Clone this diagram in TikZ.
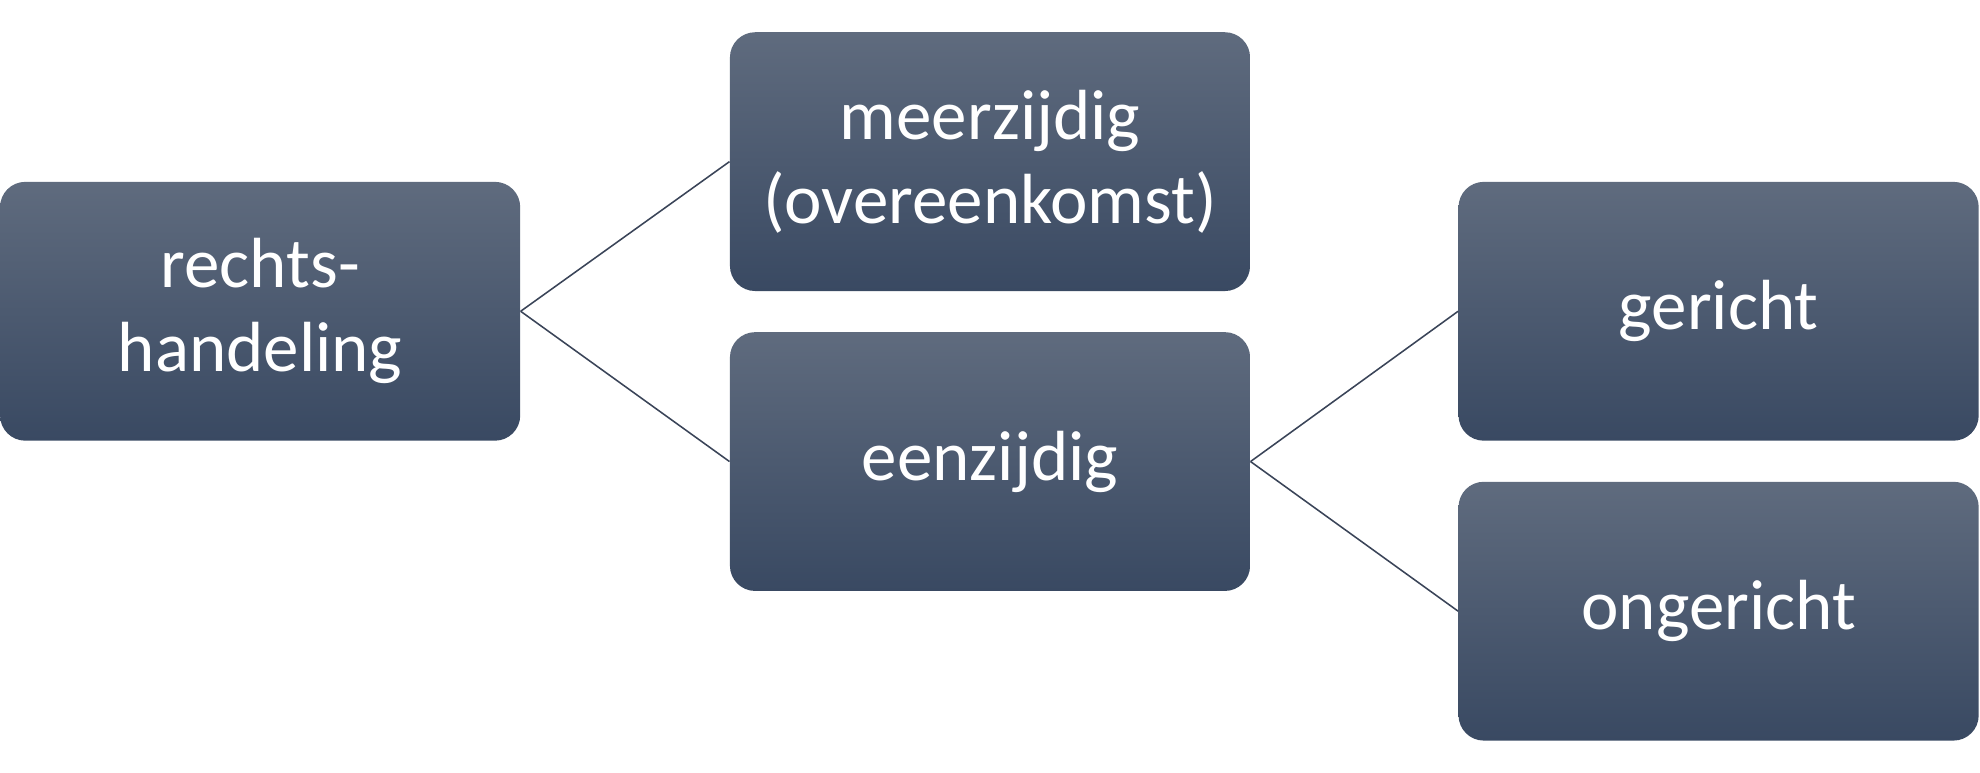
\documentclass[tikz,border=0pt]{standalone}
\usepackage{fontspec}
\setmainfont{Carlito}
\definecolor{boxtop}{HTML}{5F6B7E}
\definecolor{boxbot}{HTML}{394962}
\definecolor{linec}{HTML}{3A4458}
\begin{document}
\begin{tikzpicture}[x=0.02cm,y=-0.02cm,
  box/.style={rectangle,rounded corners=0.4cm,top color=boxtop,bottom color=boxbot,
    minimum width=8.24cm,minimum height=4.1cm,inner sep=0pt,text=white,align=center,
    font=\fontsize{32}{38}\selectfont},
  conn/.style={draw=linec,line width=0.7pt}]
\useasboundingbox (0,0) rectangle (1568,612);
\node[box] (r) at (206,246.5) {rechts-\\handeling};
\node[box] (m) at (784,128) {meerzijdig\\(overeenkomst)};
\node[box] (e) at (784,365.5) {eenzijdig};
\node[box] (g) at (1361,246.5) {gericht};
\node[box] (o) at (1361,484) {ongericht};
\draw[conn] (r.east) -- (m.west);
\draw[conn] (r.east) -- (e.west);
\draw[conn] (e.east) -- (g.west);
\draw[conn] (e.east) -- (o.west);
\end{tikzpicture}
\end{document}
